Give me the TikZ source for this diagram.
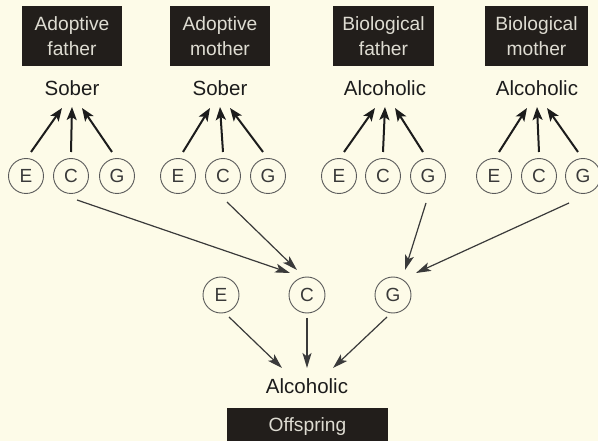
\documentclass[tikz,border=0pt]{standalone}
\usepackage{fontspec}
\setmainfont{Liberation Sans}
\usetikzlibrary{arrows.meta,calc}

\definecolor{paper}{HTML}{FDFBE8}
\definecolor{boxfill}{HTML}{221E1B}
\definecolor{boxtext}{HTML}{DEDCD2}
\definecolor{ink}{HTML}{1C1C1C}
\definecolor{thin}{HTML}{3A3A3A}
\definecolor{ring}{HTML}{5A5A5A}

\tikzset{
  person/.style={fill=boxfill, draw=none, text=boxtext, align=center,
    minimum width=100pt, minimum height=60pt, inner sep=0pt,
    font=\fontsize{19.2}{25}\selectfont},
  status/.style={text=ink, inner sep=0pt, font=\fontsize{20.5}{24}\selectfont},
  factor/.style={circle, draw=ring, line width=0.9pt, minimum size=35pt,
    inner sep=0pt, text=thin, font=\fontsize{19}{20}\selectfont},
  uparrow/.style={draw=ink, line width=2pt,
    -{Stealth[length=13pt,width=10pt,inset=3pt]}},
  downarrow/.style={draw=thin, line width=1.2pt,
    -{Stealth[length=15pt,width=9pt,inset=3.5pt]}}
}

\begin{document}
\begin{tikzpicture}[x=1pt,y=-1pt]
  \clip (0,0) rectangle (598,441);
  \fill[paper] (0,0) rectangle (598,441);
  \useasboundingbox (0,0) rectangle (598,441);

  % parents
  \node[person] (pAF) at (72,36)  {Adoptive\\father};
  \node[person] (pAM) at (220,36) {Adoptive\\mother};
  \node[person, minimum width=101pt] (pBF) at (383.5,36) {Biological\\father};
  \node[person, minimum width=103pt] (pBM) at (536.5,36) {Biological\\mother};

  % phenotypes of the parents
  \node[status] (sAF) at (72,88)  {Sober};
  \node[status] (sAM) at (220,88) {Sober};
  \node[status] (sBF) at (385,88) {Alcoholic};
  \node[status] (sBM) at (537,88) {Alcoholic};

  % E, C, G factors of each parent
  \foreach \p/\xe/\xc/\xg/\s in {AF/26/71/117/sAF, AM/178/223/268/sAM,
                                 BF/339/383/428/sBF, BM/494/539/583/sBM}{
    \node[factor] (\p E) at (\xe,176) {E};
    \node[factor] (\p C) at (\xc,176) {C};
    \node[factor] (\p G) at (\xg,176) {G};
    \draw[uparrow] ($(\p E)+(5,-24)$) -- ($(\s)+(-10,20)$);
    \draw[uparrow] ($(\p C)+(0,-24)$) -- ($(\s)+(0,19)$);
    \draw[uparrow] ($(\p G)+(-5,-24)$) -- ($(\s)+(10,20)$);
  }

  % offspring factors
  \node[factor, minimum size=36pt] (oE) at (221,295) {E};
  \node[factor, minimum size=36pt] (oC) at (307,295) {C};
  \node[factor, minimum size=36pt] (oG) at (393,295) {G};

  % offspring
  \node[status] (sO) at (307,386) {Alcoholic};
  \node[person, minimum width=161pt, minimum height=38pt] (pO) at (307.5,427) {Offspring};

  % transmission: shared environment from adoptive parents, genes from biological parents
  \draw[downarrow] ($(AFC)+(6,24)$)  -- ($(oC)+(-17,-22)$);
  \draw[downarrow] ($(AMC)+(4,26)$)  -- ($(oC)+(-10,-25)$);
  \draw[downarrow] ($(BFG)+(-2,27)$) -- ($(oG)+(12,-25)$);
  \draw[downarrow] ($(BMG)+(-14,27)$) -- ($(oG)+(23,-22)$);

  % offspring factors to the offspring phenotype
  \draw[downarrow] ($(oE)+(8,22)$)  -- ($(sO)+(-25,-18)$);
  \draw[downarrow] ($(oC)+(0,23)$)  -- ($(sO)+(0,-18)$);
  \draw[downarrow] ($(oG)+(-6,22)$) -- ($(sO)+(26,-18)$);
\end{tikzpicture}
\end{document}
